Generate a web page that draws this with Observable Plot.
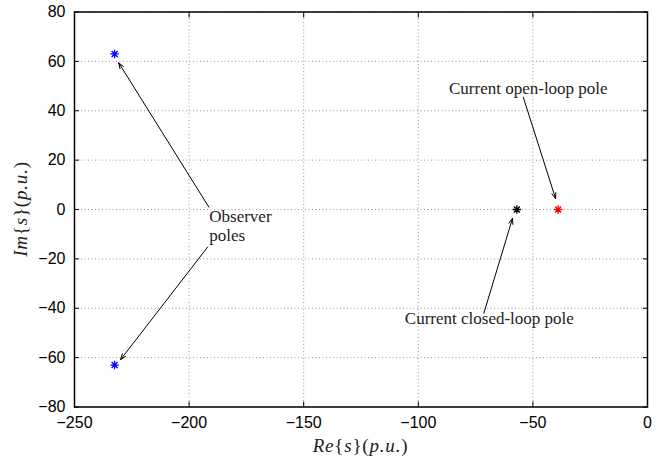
<!DOCTYPE html>
<html>
<head>
<meta charset="utf-8">
<script src="https://cdn.jsdelivr.net/npm/d3@7"></script>
<script src="https://cdn.jsdelivr.net/npm/@observablehq/plot@0.6"></script>
<style>
  html, body { margin: 0; padding: 0; background: #fff; }
  #chart { width: 666px; height: 462px; }
</style>
</head>
<body>
<div id="chart"></div>
<script>
// Poles (real, imaginary) in p.u.
const observerRe = [-232.5, -232.5];
const observerIm = [63, -63];
const closedLoopRe = [-57];
const closedLoopIm = [0];
const openLoopRe = [-39];
const openLoopIm = [0];

// Tick values
const xTicks = [-250, -200, -150, -100, -50, 0];
const yTicks = [-80, -60, -40, -20, 0, 20, 40, 60, 80];

// Annotation labels (data coordinates)
const centeredText = ["Current open-loop pole", "Current closed-loop pole"];
const centeredX = [-52, -69];
const centeredY = [48.8, -44.1];
const observerText = ["Observer\npoles"];
const observerX = [-191.2];
const observerY = [0.4];

// Annotation arrows (data coordinates)
const arrowX1 = [-54.2, -71.4, -191.4, -191.9];
const arrowY1 = [45.5, -42, 1, -15.2];
const arrowX2 = [-40.1, -58.9, -230.7, -229.9];
const arrowY2 = [4.4, -3.6, 59.4, -60.8];

const poles = [
  ...observerRe.map((re, i) => ({re, im: observerIm[i], c: "#0000ff"})),
  ...closedLoopRe.map((re, i) => ({re, im: closedLoopIm[i], c: "#000000"})),
  ...openLoopRe.map((re, i) => ({re, im: openLoopIm[i], c: "#ff0000"}))
];
const notesC = centeredText.map((t, i) => ({t, x: centeredX[i], y: centeredY[i]}));
const notesO = observerText.map((t, i) => ({t, x: observerX[i], y: observerY[i]}));
const arrows = arrowX1.map((x1, i) => ({x1, y1: arrowY1[i], x2: arrowX2[i], y2: arrowY2[i]}));

const asterisk = {
  draw(ctx, size) {
    const r = Math.sqrt(size / Math.PI);
    const d = r * Math.SQRT1_2;
    ctx.moveTo(0, -r); ctx.lineTo(0, r);
    ctx.moveTo(-r, 0); ctx.lineTo(r, 0);
    ctx.moveTo(-d, -d); ctx.lineTo(d, d);
    ctx.moveTo(-d, d); ctx.lineTo(d, -d);
  }
};

const serif = "'Liberation Serif', 'Times New Roman', serif";
const sans = "'Liberation Sans', Arial, Helvetica, sans-serif";
const fmt = d => d3.format("")(d).replace("-", "\u2212");

const plot = Plot.plot({
  width: 666,
  height: 462,
  marginLeft: 74,
  marginRight: 19,
  marginTop: 11.5,
  marginBottom: 55.5,
  style: {fontFamily: sans, fontSize: "16px", background: "#fff", color: "#000"},
  x: {domain: [-250, 0], ticks: xTicks, label: null},
  y: {domain: [-80, 80], ticks: yTicks, label: null},
  marks: [
    Plot.gridX(xTicks, {stroke: "#999", strokeOpacity: 1, strokeDasharray: "1,2.5", strokeWidth: 1}),
    Plot.gridY(yTicks, {stroke: "#999", strokeOpacity: 1, strokeDasharray: "1,2.5", strokeWidth: 1}),
    Plot.axisX(xTicks, {anchor: "bottom", tickSize: -5, tickPadding: 15, fontSize: 16, label: null, tickFormat: fmt}),
    Plot.axisX(xTicks, {anchor: "top", tickSize: -5, tickFormat: () => "", label: null}),
    Plot.axisY(yTicks, {anchor: "left", tickSize: -5, tickPadding: 14, fontSize: 16, label: null, tickFormat: fmt}),
    Plot.axisY(yTicks, {anchor: "right", tickSize: -5, tickFormat: () => "", label: null}),
    Plot.frame({stroke: "#000", strokeWidth: 1.5}),
    Plot.arrow(arrows, {x1: "x1", y1: "y1", x2: "x2", y2: "y2", stroke: "#000", strokeWidth: 1, headLength: 9, headAngle: 40}),
    Plot.dot(poles, {x: "re", y: "im", stroke: "c", symbol: asterisk, r: 4.2, strokeWidth: 1.3}),
    Plot.text(notesC, {x: "x", y: "y", text: "t", textAnchor: "middle", fontFamily: serif, fontSize: 17, fill: "#222"}),
    Plot.text(notesO, {x: "x", y: "y", text: "t", textAnchor: "start", lineAnchor: "top", lineHeight: 1.12, fontFamily: serif, fontSize: 17, fill: "#222"})
  ]
});

const svg = d3.select(plot);
// Axis labels with LaTeX-like mixed italic text
function mathLabel(sel, head) {
  sel.append("tspan").attr("font-style", "italic").text(head);
  sel.append("tspan").text("{");
  sel.append("tspan").attr("font-style", "italic").text("s");
  sel.append("tspan").text("}(");
  sel.append("tspan").attr("font-style", "italic").text("p.u.");
  sel.append("tspan").text(")");
}
const xl = svg.append("text")
  .attr("x", (74 + 647) / 2).attr("y", 452)
  .attr("text-anchor", "middle")
  .attr("font-family", serif).attr("font-size", 19).attr("fill", "#222")
  .attr("letter-spacing", 0.8);
mathLabel(xl, "Re");

const yl = svg.append("text")
  .attr("transform", `translate(27,${(11.5 + 406.5) / 2}) rotate(-90)`)
  .attr("text-anchor", "middle")
  .attr("font-family", serif).attr("font-size", 19).attr("fill", "#222")
  .attr("letter-spacing", 0.8);
mathLabel(yl, "Im");

document.getElementById("chart").appendChild(plot);
</script>
</body>
</html>
